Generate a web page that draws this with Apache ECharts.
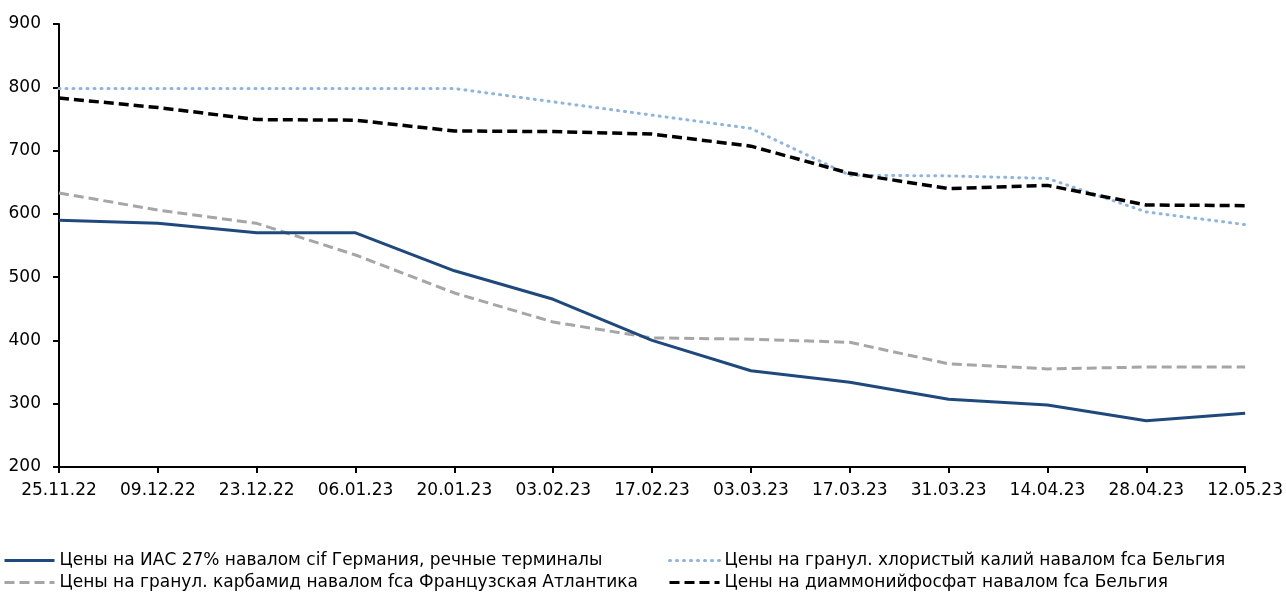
<!DOCTYPE html>
<html><head><meta charset="utf-8">
<script src="https://cdn.jsdelivr.net/npm/echarts@6/dist/echarts.min.js"></script>
<style>html,body{margin:0;padding:0;background:#fff}#c{width:1286px;height:592px}</style>
</head><body><div id="c"></div>
<script>
const categories = ['25.11.22','09.12.22','23.12.22','06.01.23','20.01.23','03.02.23','17.02.23','03.03.23','17.03.23','31.03.23','14.04.23','28.04.23','12.05.23'];
const seriesNames = [
  'Цены на ИАС 27% навалом cif Германия, речные терминалы',
  'Цены на гранул. карбамид навалом fca Французская Атлантика',
  'Цены на гранул. хлористый калий навалом fca Бельгия',
  'Цены на диаммонийфосфат навалом fca Бельгия'
];
const ias = [590,585,570,570,510,465,400,352,334,307,298,273,285];
const urea = [633,606,585,535,475,429,404,402,397,363,355,358,358];
const potash = [798,798,798,798,798,777,756,735,661,660,656,603,583];
const dap = [783,768,749,748,731,730,726,707,664,640,645,614,613];
const yTicks = {min:200, max:900, interval:100};

const font = 'DejaVu Sans';
const legendBase = {orient:'vertical', top:552, padding:0, itemWidth:50, itemHeight:2, itemGap:5,
  itemStyle:{opacity:0}, lineStyle:{width:3},
  textStyle:{fontSize:17, color:'#000', lineHeight:17, fontFamily:font}};
const chart = echarts.init(document.getElementById('c'), null, {renderer:'canvas'});
chart.setOption({
  animation:false,
  textStyle:{fontFamily:font},
  grid:{left:59, right:37, top:24, bottom:125, containLabel:false},
  xAxis:{type:'category', data:categories, boundaryGap:false,
    axisLine:{lineStyle:{color:'#000', width:2}},
    axisTick:{show:true, alignWithLabel:true, length:6, lineStyle:{color:'#000', width:2}},
    axisLabel:{color:'#000', fontSize:17, margin:15, interval:0, fontFamily:font}},
  yAxis:{type:'value', min:yTicks.min, max:yTicks.max, interval:yTicks.interval,
    axisLine:{show:true, lineStyle:{color:'#000', width:2}},
    axisTick:{show:true, length:6, lineStyle:{color:'#000', width:2}},
    splitLine:{show:false},
    axisLabel:{color:'#000', fontSize:17, margin:18, fontFamily:font}},
  legend:[
    Object.assign({left:3, data:[seriesNames[0], seriesNames[1]]}, legendBase),
    Object.assign({left:668, data:[seriesNames[2], seriesNames[3]]}, legendBase)
  ],
  series:[
    {name:seriesNames[0], type:'line', data:ias, symbol:'none', z:3,
     lineStyle:{color:'#1F497D', width:3}, itemStyle:{color:'#1F497D'}},
    {name:seriesNames[1], type:'line', data:urea, symbol:'none', z:2,
     lineStyle:{color:'#A6A6A6', width:3, type:[10,5]}, itemStyle:{color:'#A6A6A6'}},
    {name:seriesNames[2], type:'line', data:potash, symbol:'none', z:2,
     lineStyle:{color:'#8DB4E2', width:3, type:[1,6], cap:'round'}, itemStyle:{color:'#8DB4E2'}},
    {name:seriesNames[3], type:'line', data:dap, symbol:'none', z:4,
     lineStyle:{color:'#000000', width:3.5, type:[10,5]}, itemStyle:{color:'#000'}}
  ]
});
</script></body></html>
